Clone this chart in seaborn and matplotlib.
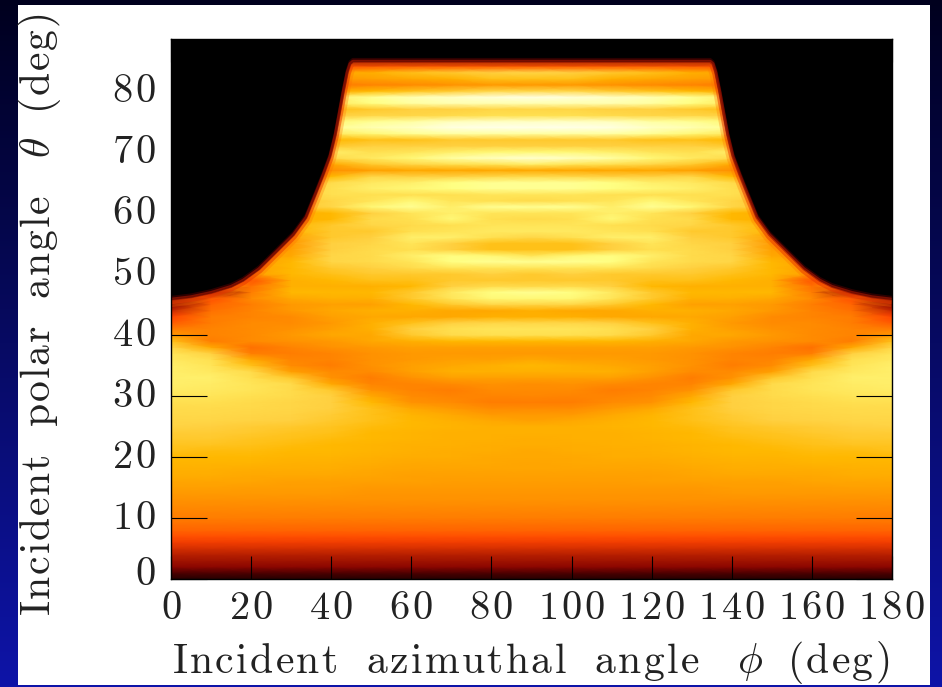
import numpy as np
import pandas as pd
import matplotlib
matplotlib.use("Agg")
import matplotlib.pyplot as plt
from matplotlib.colors import LinearSegmentedColormap
from matplotlib.patches import Rectangle
from matplotlib.transforms import ScaledTranslation
import seaborn as sns

sns.set_style("white")
plt.rcParams['mathtext.fontset'] = 'cm'
plt.rcParams['font.family'] = ['cmr10', 'DejaVu Sans']
plt.rcParams['axes.formatter.use_mathtext'] = True


def tracked(s, gap=0.075):
    """Roman mathtext with the slight letter spacing of the original."""
    return (r'\hspace{%g}' % gap).join(
        r'\mathrm{%s}' % c if c != ' ' else r'\ \ ' for c in s)


XLABEL = '$' + tracked('Incident azimuthal angle ', 0.064) + r'\ \phi\ \ ' + tracked('(deg)', 0.064) + '$'
YLABEL = '$' + tracked('Incident polar angle ', 0.05) + r'\ \theta\ \ ' + tracked('(deg)', 0.05) + '$'
phi_ticks = [0, 20, 40, 60, 80, 100, 120, 140, 160, 180]
theta_ticks = [0, 10, 20, 30, 40, 50, 60, 70, 80]

# incident azimuth columns (mirrored about 90 deg when drawn)
phi_nodes = [0, 10, 20, 30, 40, 50, 60, 70, 80, 90]
# brightness, one row per degree of polar angle, from 88 deg down to 0 deg
brightness = [
 [0,0,0,0,0,0,0,0,0,0],
 [0,0,0,0,0,0,0,0,0,0],
 [0,0,0,0,0,0,0,0,0,0],
 [0,0,0,0,0,0,0,0,0,0],
 [60,60,60,60,42,44,45,45,45,45],
 [60,60,60,60,62,64,68,70,72,74],
 [60,60,60,60,58,60,62,64,68,68],
 [60,60,60,60,50,52,54,56,58,58],
 [60,60,60,60,62,66,68,70,74,74],
 [60,60,60,60,84,90,94,96,98,99],
 [60,60,60,60,82,88,92,94,94,94],
 [60,60,60,60,68,70,72,72,74,74],
 [60,60,60,60,72,74,74,76,78,78],
 [60,60,60,60,86,90,92,95,96,96],
 [60,60,60,60,90,94,96,99,100,100],
 [60,60,60,60,82,86,90,92,92,92],
 [60,60,60,60,66,68,68,70,70,70],
 [60,60,60,60,70,72,72,72,72,72],
 [60,60,60,60,84,78,80,84,86,86],
 [60,60,60,66,76,82,86,92,95,97],
 [60,60,60,60,62,70,74,78,80,84],
 [60,60,60,58,55,60,62,62,62,62],
 [60,60,60,64,66,74,72,72,74,75],
 [60,60,60,70,76,82,84,88,90,90],
 [60,60,60,72,78,84,86,88,90,90],
 [60,60,60,72,78,78,78,78,80,80],
 [60,60,60,70,74,80,86,80,78,76],
 [60,60,60,70,74,86,90,84,90,90],
 [60,60,60,64,66,72,80,84,80,80],
 [60,60,60,64,66,76,78,86,78,76],
 [60,60,60,66,70,74,76,78,80,80],
 [60,60,60,66,70,70,78,80,82,82],
 [60,60,60,60,70,72,84,84,78,74],
 [60,60,60,58,72,74,80,72,68,68],
 [60,60,60,60,72,76,78,72,68,68],
 [60,60,60,62,74,76,84,88,86,80],
 [60,60,60,66,74,76,80,88,90,90],
 [60,60,60,66,70,72,76,80,80,80],
 [60,60,60,66,68,70,70,70,72,70],
 [60,60,42,64,66,68,68,70,70,70],
 [60,60,48,64,64,64,66,72,76,75],
 [60,20,50,66,66,66,70,82,88,90],
 [12,42,54,62,64,64,70,80,86,86],
 [22,46,50,58,60,60,66,70,74,74],
 [32,48,52,58,62,64,64,62,62,64],
 [40,50,52,54,60,62,62,62,64,64],
 [44,50,54,54,58,64,68,72,74,74],
 [50,52,54,56,60,64,72,78,80,80],
 [58,52,54,58,62,62,70,76,78,78],
 [68,50,54,56,58,62,64,66,66,66],
 [74,62,48,52,56,58,60,60,60,60],
 [80,72,50,50,52,56,58,58,58,58],
 [82,78,62,52,52,56,58,60,60,62],
 [84,80,68,54,50,56,60,62,64,66],
 [84,82,76,60,54,54,60,64,64,64],
 [84,84,78,70,56,50,56,60,60,60],
 [84,83,80,76,62,52,52,54,56,55],
 [83,82,80,76,70,56,52,50,54,54],
 [80,80,78,76,72,62,54,52,52,53],
 [78,78,76,74,72,66,56,54,50,50],
 [76,76,75,74,72,68,62,58,54,54],
 [75,75,74,73,71,68,65,62,58,58],
 [74,74,73,72,70,68,66,64,62,60],
 [73,72,71,70,69,67,66,65,64,64],
 [71,71,70,69,68,66,65,64,64,64],
 [70,70,69,68,67,66,65,64,64,63],
 [69,69,68,67,66,65,64,64,63,63],
 [68,67,67,66,66,65,64,63,63,62],
 [66,66,66,65,65,64,63,63,62,62],
 [65,65,65,64,64,63,62,62,62,61],
 [64,64,63,63,63,62,61,61,61,61],
 [63,63,62,62,62,61,60,60,60,60],
 [61,61,61,60,60,60,60,59,59,59],
 [60,60,59,59,59,58,58,58,58,58],
 [58,58,58,58,58,57,57,57,57,57],
 [56,56,56,56,56,56,56,56,56,56],
 [54,54,54,54,54,54,54,54,54,54],
 [52,52,52,52,52,52,52,52,52,52],
 [50,50,50,50,50,50,50,50,50,50],
 [48,48,48,48,48,48,48,48,48,48],
 [46,46,46,46,46,46,46,46,46,46],
 [42,42,42,42,42,42,42,42,42,42],
 [38,38,38,38,38,38,38,38,38,38],
 [34,34,34,34,34,34,34,34,34,34],
 [30,30,30,30,30,30,30,30,30,30],
 [26,26,26,26,26,26,26,26,26,26],
 [22,22,22,22,22,22,22,22,22,22],
 [14,14,14,14,14,14,14,14,14,14],
 [8,8,8,8,8,8,8,8,8,8],
]
theta_nodes = list(range(88, -1, -1))

# outer edge of the non-zero region (left half, mirrored on the right)
edge_phi = [0, 5, 10, 15, 18, 22, 26, 30.6, 33.7, 36, 38, 39.7, 41, 42, 43, 44, 44.7, 45.4, 90]
edge_theta = [45.6, 46.0, 46.7, 47.7, 48.7, 50.6, 53.2, 56.2, 59, 62.7, 66, 69, 72.5, 76, 79.6, 82.8, 84.2, 84.6, 84.6]

heat_colors = [(0, '#000000'), (.10, '#300000'), (.20, '#800000'), (.30, '#b82000'),
               (.40, '#ff4400'), (.50, '#ff7c00'), (.60, '#ffa000'), (.66, '#ffb800'),
               (.72, '#ffd040'), (.78, '#ffe050'), (.84, '#ffee68'), (.88, '#ffff80'),
               (.94, '#ffffb0'), (1, '#ffffe8')]
cmap = LinearSegmentedColormap.from_list('heat', heat_colors)

W, H = 942, 687
fig = plt.figure(figsize=(W / 100, H / 100), dpi=100)

# slide background and white panel
bg = fig.add_axes([0, 0, 1, 1], zorder=-2)
bg.imshow(np.linspace(0, 1, 256)[:, None], aspect='auto', extent=(0, W, H, 0),
          cmap=LinearSegmentedColormap.from_list('bg', ['#00001e', '#0e14a8']))
bg.add_patch(Rectangle((18, 5), 912, 680, color='white', lw=0))
bg.set_xlim(0, W); bg.set_ylim(H, 0); bg.axis('off')

L, R, T, B = 171, 892, 39, 579
ax = fig.add_axes([L / W, 1 - B / H, (R - L) / W, (B - T) / H])

half = pd.DataFrame(brightness, index=theta_nodes, columns=phi_nodes).sort_index()
full = half.join(half[phi_nodes[-2::-1]].rename(columns=lambda p: 180 - p))
sns.heatmap(full, ax=ax, cmap=cmap, vmin=0, vmax=100, cbar=False,
            shading='gouraud', xticklabels=False, yticklabels=False)

step = 10.0
ax.set_xlim(0, 180 / step)
ax.set_ylim(0, 88.5)

# edge of the region, mirrored: a soft glow under the black, a faint fringe over it
ep = np.array(edge_phi + [180 - p for p in edge_phi[-2::-1]]) / step
et = np.array(edge_theta + edge_theta[-2::-1])
ax.plot(ep, et, color='#ff7000', lw=9, alpha=.3, zorder=3, solid_capstyle='butt')
ax.plot(ep, et, color='#e83800', lw=5, alpha=.55, zorder=3.2, solid_capstyle='butt')
ax.fill_between(ep, et + .2, 90, color='black', lw=0, zorder=4)
ax.plot(ep, et + .25, color='#a01400', lw=2.2, alpha=.7, zorder=4.5, solid_capstyle='butt')
ax.plot(ep, et + .55, color='#400000', lw=2.2, alpha=.7, zorder=4.4, solid_capstyle='butt')

ax.set_xticks([p / step for p in phi_ticks],
              labels=['$' + tracked(str(p), 0.09) + '$' for p in phi_ticks])
ax.set_yticks(theta_ticks, labels=['$' + tracked(str(t), 0.09) + '$' for t in theta_ticks])
ax.tick_params(axis='x', which='major', direction='in', length=16.5, width=.8, color='black',
               top=True, bottom=True, pad=9, labelsize=29, labelcolor='#222222')
ax.tick_params(axis='y', which='major', direction='in', length=26, width=.8, color='black',
               left=True, right=True, pad=11, labelsize=29, labelcolor='#222222')
for s in ax.spines.values():
    s.set_visible(True); s.set_color('black'); s.set_linewidth(1); s.set_zorder(7)
for line in ax.get_xticklines() + ax.get_yticklines():
    line.set_zorder(6)
ax.set_axisbelow(False)

# the printed labels sit a little above their ticks, the 0 clearly so
for t, lab in zip(theta_ticks, ax.get_yticklabels()):
    up = 8 if t == 0 else 3
    lab.set_transform(lab.get_transform() + ScaledTranslation(0, up / 100, fig.dpi_scale_trans))

ax.set_xlabel(XLABEL, fontsize=30, color='#222222')
ax.set_ylabel(YLABEL, fontsize=30, color='#222222')
ax.xaxis.set_label_coords((531 - L) / (R - L), (B - 673) / (B - T), transform=ax.transAxes)
ax.xaxis.label.set_verticalalignment('baseline')
ax.yaxis.set_label_coords((40 - L) / (R - L), (B - 315) / (B - T), transform=ax.transAxes)
ax.yaxis.label.set_verticalalignment('center')

fig.savefig('out.png', dpi=100, facecolor='black')
